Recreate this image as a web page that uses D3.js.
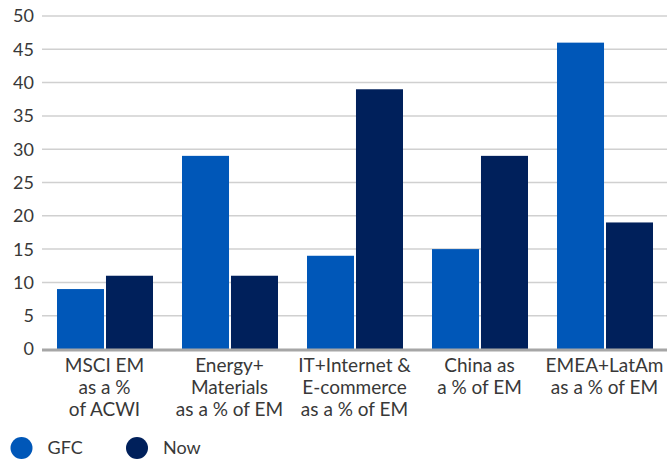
<!DOCTYPE html>
<html><head><meta charset="utf-8">
<script src="https://cdn.jsdelivr.net/npm/d3@7"></script>
<style>body{margin:0;background:#fff;} svg{display:block;font-family:Lato, "Open Sans", sans-serif;}</style>
</head><body><svg id="c" width="667" height="461"></svg>
<script>
const categories = [
  ["MSCI EM","as a %","of ACWI"],
  ["Energy+","Materials","as a % of EM"],
  ["IT+Internet &","E-commerce","as a % of EM"],
  ["China as","a % of EM"],
  ["EMEA+LatAm","as a % of EM"]
];
const seriesNames = ["GFC","Now"];
const gfc = [9, 29, 14, 15, 46];
const now = [11, 11, 39, 29, 19];
const yTicks = [0,5,10,15,20,25,30,35,40,45,50];
const colors = ["#0057b8","#00205b"];

(function(){
const svg = d3.select("#c");
const pl = 42, pr = 667, pt = 16, pb = 349;
const x = d3.scaleBand().domain(d3.range(categories.length)).range([pl, pr]).paddingInner(0).paddingOuter(0);
const x1 = d3.scaleBand().domain([0,1]).range([15, 111]).paddingInner(0.04);
const y = d3.scaleLinear().domain([0,50]).range([pb, pt]);

svg.append("g").selectAll("line").data(yTicks.filter(d=>d>0)).join("line")
  .attr("x1", pl).attr("x2", pr).attr("y1", d=>y(d)).attr("y2", d=>y(d))
  .attr("stroke", "#d0d0d0").attr("stroke-width", 1.5);

svg.append("g").selectAll("text").data(yTicks).join("text")
  .attr("x", 34).attr("y", d=>y(d)).attr("dy","0.36em").attr("text-anchor","end")
  .attr("font-size", 18).attr("fill", "#383838").text(d=>d);

const data = [gfc, now];
const g = svg.append("g");
data.forEach((vals, si) => {
  g.selectAll(null).data(vals).join("rect")
    .attr("x", (d,i)=>x(i)+x1(si)).attr("width", x1.bandwidth())
    .attr("y", d=>y(d)).attr("height", d=>y(0)-y(d))
    .attr("fill", colors[si]);
});

svg.append("line").attr("x1", pl).attr("x2", pr).attr("y1", y(0)+1).attr("y2", y(0)+1)
  .attr("stroke", "#a6a6a6").attr("stroke-width", 3);

categories.forEach((lines, i) => {
  const t = svg.append("text").attr("text-anchor","middle").attr("font-size",19).attr("fill","#383838");
  lines.forEach((ln, j) => {
    t.append("tspan").attr("x", x(i)+x.bandwidth()/2).attr("y", 372 + j*22).text(ln);
  });
});

const lg = svg.append("g");
const lx = [21.5, 137];
seriesNames.forEach((n, i) => {
  lg.append("circle").attr("cx", lx[i]).attr("cy", 448).attr("r", 11).attr("fill", colors[i]);
  lg.append("text").attr("x", lx[i]+26).attr("y", 448).attr("dy","0.36em").attr("font-size",18).attr("fill","#383838").text(n);
});
})();
</script></body></html>
